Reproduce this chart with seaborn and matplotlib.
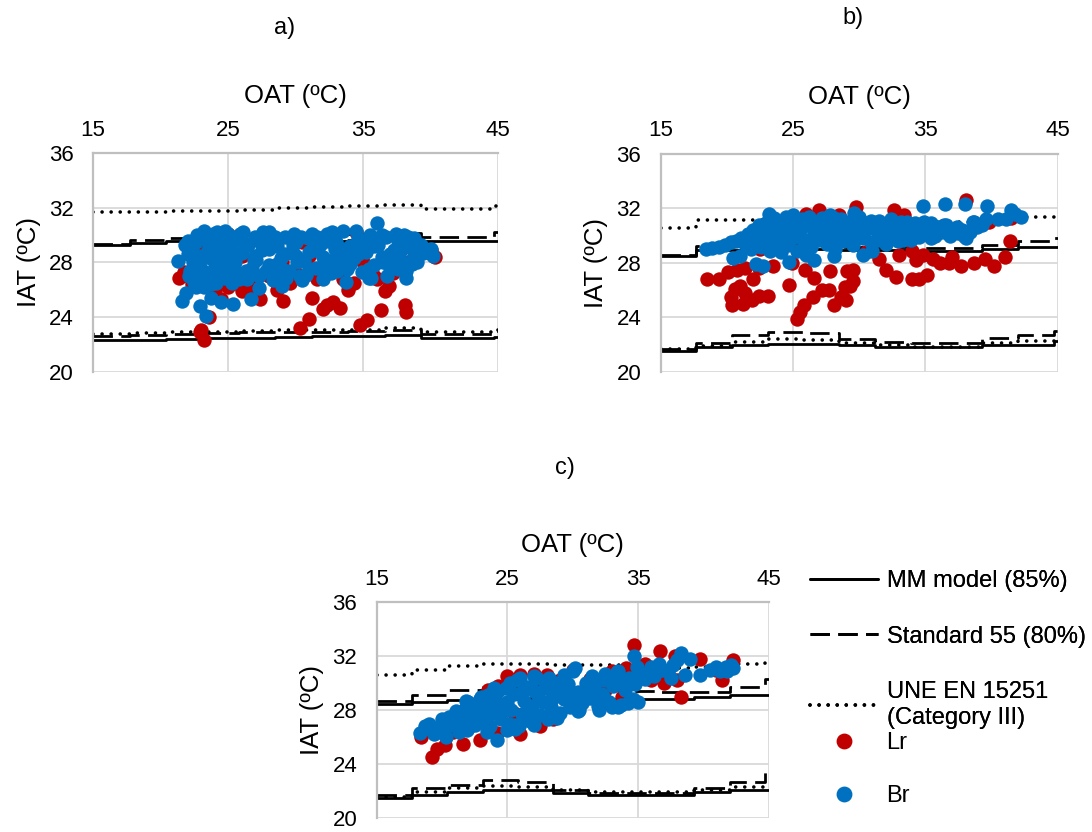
import matplotlib
matplotlib.use("Agg")
import matplotlib.pyplot as plt
import seaborn as sns
import pandas as pd
from matplotlib.lines import Line2D

# ---------------- data ----------------
xticks = [15, 25, 35, 45]
yticks = [20, 24, 28, 32, 36]

# comfort-band step breakpoints (OAT, ºC)
step_oat = [15, 17.7, 20.4, 23.1, 25.8, 28.5, 31.2, 33.9, 36.6, 39.3, 42.0, 44.7, 45]

# panel a) comfort limits
a_mm_up = [29.3, 29.45, 29.55, 29.55, 29.6, 29.6, 29.6, 29.65, 29.65, 29.55, 29.55, 29.6, 29.6]
a_s55_up = [29.35, 29.65, 29.8, 29.85, 29.95, 30.05, 30.05, 30.1, 30.15, 29.85, 29.85, 30.2, 30.2]
a_une_up = [31.7, 31.7, 31.75, 31.8, 31.85, 32.0, 32.05, 32.1, 32.2, 31.9, 31.9, 32.1, 32.1]
a_une_lo = [22.8, 22.85, 22.9, 22.95, 23.0, 23.05, 23.05, 23.1, 23.2, 22.95, 22.95, 23.1, 23.1]
a_s55_lo = [22.6, 22.7, 22.8, 22.85, 22.9, 22.95, 22.95, 23.0, 23.1, 22.8, 22.8, 23.0, 23.0]
a_mm_lo = [22.3, 22.35, 22.4, 22.45, 22.5, 22.55, 22.6, 22.65, 22.7, 22.5, 22.5, 22.55, 22.55]

# panel b) comfort limits
b_mm_up = [28.5, 28.95, 28.95, 29.0, 29.0, 28.95, 28.95, 28.9, 28.9, 29.05, 29.2, 29.2, 29.2]
b_s55_up = [28.6, 29.25, 29.3, 29.3, 29.3, 29.2, 29.15, 29.1, 29.1, 29.35, 29.6, 29.85, 29.85]
b_une_up = [30.55, 31.15, 31.15, 31.15, 31.15, 31.15, 31.1, 31.05, 31.0, 31.1, 31.4, 31.45, 31.45]
b_une_lo = [21.65, 21.9, 22.2, 22.4, 22.35, 22.15, 21.95, 21.85, 21.85, 22.1, 22.3, 22.55, 22.55]
b_s55_lo = [21.7, 22.1, 22.7, 22.9, 22.85, 22.4, 22.2, 22.1, 22.1, 22.5, 22.7, 23.0, 23.0]
b_mm_lo = [21.5, 21.8, 21.95, 22.05, 22.05, 21.95, 21.85, 21.8, 21.8, 21.95, 22.0, 22.25, 22.25]

# panel c) comfort limits
c_mm_up = [28.45, 28.6, 28.75, 28.85, 28.9, 28.85, 28.8, 28.8, 28.8, 28.95, 29.1, 29.15, 29.15]
c_s55_up = [28.7, 29.1, 29.5, 29.7, 29.75, 29.6, 29.5, 29.4, 29.35, 29.35, 29.7, 30.3, 30.3]
c_une_up = [30.6, 30.95, 31.25, 31.4, 31.4, 31.35, 31.3, 31.2, 31.15, 31.2, 31.4, 31.55, 31.55]
c_une_lo = [21.58, 21.95, 22.2, 22.37, 22.3, 22.07, 21.95, 21.9, 21.9, 22.07, 22.3, 22.45, 22.45]
c_s55_lo = [21.7, 22.2, 22.45, 22.8, 22.7, 22.07, 21.83, 21.83, 21.83, 22.2, 22.7, 23.4, 23.4]
c_mm_lo = [21.46, 21.7, 21.95, 22.07, 22.07, 21.83, 21.7, 21.7, 21.7, 21.95, 22.07, 22.07, 22.07]

# panel a) measurements
a_lr_oat = [21.4, 21.7, 22.0, 22.3, 22.6, 22.9, 23.2, 23.0, 23.6, 24.0,
            24.5, 25.0, 25.5, 26.0, 26.4, 27.0, 27.4, 28.0, 28.6, 29.1,
            29.6, 30.0, 30.3, 31.0, 31.2, 31.6, 32.0, 32.3, 32.8, 33.3,
            33.9, 34.3, 34.8, 35.3, 35.8, 36.3, 36.6, 36.9, 37.2, 38.2,
            38.1, 38.6, 39.0, 40.3, 40.0, 35.5, 25.0, 28.0, 30.5, 33.0,
            26.0, 24.0, 23.0, 22.5, 35.0, 37.5, 29.0, 31.0, 34.5, 27.0,
            33.5, 36.0]
a_lr_iat = [26.9, 27.3, 27.0, 26.4, 27.8, 22.9, 22.3, 23.1, 24.0, 26.0,
            25.3, 26.2, 26.5, 25.9, 26.6, 25.9, 25.3, 27.0, 26.0, 25.2,
            26.5, 27.2, 23.2, 23.9, 25.4, 26.8, 24.6, 24.9, 25.1, 24.7,
            26.0, 26.5, 23.4, 23.8, 27.0, 24.5, 25.9, 26.3, 27.2, 24.4,
            24.9, 28.2, 28.9, 28.4, 28.9, 29.9, 30.1, 29.8, 29.5, 28.0,
            28.5, 28.0, 29.0, 28.5, 28.0, 28.0, 28.0, 28.5, 30.2, 27.0,
            26.8, 26.8]
a_br_oat = [21.3, 21.6, 21.9, 22.0, 22.2, 22.3, 22.5, 22.6, 22.8, 22.9,
            23.0, 23.1, 23.2, 23.3, 23.4, 23.5, 23.6, 23.7, 23.8, 23.9,
            24.0, 24.1, 24.2, 24.3, 24.4, 24.5, 24.6, 24.8, 24.9, 25.0,
            25.1, 25.2, 25.4, 25.5, 25.6, 25.8, 26.0, 26.1, 26.3, 26.5,
            26.7, 26.9, 27.0, 27.3, 27.5, 27.8, 28.0, 28.3, 28.6, 28.9,
            29.2, 29.5, 29.8, 30.0, 30.3, 30.6, 30.9, 31.2, 31.5, 31.8,
            32.0, 32.3, 32.6, 32.9, 33.2, 33.5, 33.8, 34.0, 34.3, 34.6,
            34.9, 35.2, 35.5, 35.8, 36.0, 36.1, 36.4, 36.7, 37.0, 37.3,
            37.6, 37.9, 38.2, 38.2, 38.5, 38.8, 39.3, 39.7, 40.2, 40.0,
            22.4, 23.0, 23.8, 24.7, 25.3, 27.0, 28.0, 30.0, 31.0, 33.0,
            35.0, 36.5, 24.0, 26.0, 29.0,
            21.8, 22.2, 22.7, 23.3, 23.9, 24.4, 25.0, 25.6, 26.2, 26.8,
            27.4, 28.0, 28.6, 29.2, 29.8, 30.4, 31.0, 31.6, 32.2, 32.8,
            33.4, 34.0, 34.6, 35.2, 35.8, 36.4, 37.0, 37.6, 38.2, 38.8,
            22.1, 22.9, 23.5, 24.2, 24.9, 25.7, 26.4, 27.1, 27.8, 28.5,
            29.3, 30.1, 30.8, 31.5, 32.4, 33.1, 33.9, 34.7, 35.4, 36.2,
            37.1, 37.8, 38.6, 39.4, 23.7, 25.9, 28.8, 32.7, 35.6, 38.0,
            22.0, 23.2, 24.8, 27.6, 29.9, 31.2, 34.5, 37.4, 38.3, 30.5,
            32.0, 33.7, 35.4, 29.0, 27.3, 36.8, 26.6, 24.6, 22.6, 39.0]
a_br_iat = [28.1, 25.2, 25.8, 28.6, 27.4, 29.0, 26.6, 29.5, 27.9, 24.8,
            28.5, 29.8, 26.2, 27.3, 24.1, 28.9, 30.0, 25.4, 27.0, 28.2,
            29.4, 26.5, 30.2, 27.7, 28.8, 25.1, 29.6, 26.9, 28.4, 30.1,
            27.5, 29.1, 25.0, 28.0, 29.8, 26.8, 28.7, 30.2, 27.4, 29.3,
            25.3, 28.2, 29.9, 27.0, 28.9, 29.7, 27.8, 26.7, 29.2, 28.3,
            29.9, 27.4, 28.7, 29.5, 27.0, 28.1, 29.8, 28.9, 27.6, 29.3,
            28.4, 30.1, 27.2, 29.0, 28.0, 30.3, 27.5, 29.2, 28.3, 29.8,
            27.3, 28.8, 30.0, 27.8, 30.9, 29.3, 28.4, 29.9, 27.6, 28.9,
            29.6, 28.1, 26.9, 27.4, 29.1, 28.5, 29.3, 28.8, 28.5, 29.0,
            28.0, 27.0, 29.0, 28.0, 26.5, 28.5, 29.0, 28.5, 27.5, 29.5,
            29.0, 28.0, 27.5, 27.0, 27.5,
            29.3, 28.9, 30.0, 29.7, 30.1, 27.2, 28.9, 27.3, 29.4, 27.6,
            29.5, 30.2, 27.9, 28.6, 29.3, 29.9, 28.8, 29.9, 27.7, 28.2,
            29.0, 27.9, 28.6, 29.5, 29.2, 30.0, 28.6, 27.5, 29.6, 29.8,
            27.0, 27.7, 28.4, 26.9, 27.2, 28.6, 26.8, 28.2, 27.4, 29.9,
            26.9, 28.0, 27.1, 28.9, 29.6, 27.4, 28.6, 29.4, 27.5, 29.7,
            28.4, 28.9, 27.9, 28.7, 26.4, 30.1, 27.2, 30.2, 26.9, 30.0,
            29.6, 30.3, 30.3, 30.2, 30.1, 30.1, 30.3, 30.1, 29.9, 26.7,
            26.8, 26.6, 26.9, 26.3, 26.1, 27.0, 27.4, 27.0, 26.2, 28.0]

# panel b) measurements
b_lr_oat = [18.5, 19.4, 20.1, 20.8, 20.3, 20.4, 21.2, 21.9, 22.4, 23.1,
            21.4, 21.0, 20.6, 22.0, 21.4, 22.4, 23.5, 24.9, 25.5, 25.3,
            25.8, 24.7, 25.9, 26.6, 27.2, 26.5, 27.7, 28.1, 28.6, 28.9,
            29.5, 29.1, 27.8, 29.8, 27.0, 26.0, 32.6, 33.4, 38.1, 34.0,
            34.3, 34.8, 35.1, 36.1, 36.8, 37.7, 38.7, 40.2, 41.0, 41.4,
            32.0, 32.8, 34.0, 34.5, 29.5, 29.3, 29.0, 35.6, 37.0, 39.5,
            30.5, 31.5, 33.0, 23.5, 25.0, 27.5, 30.0, 31.0, 35.5, 39.8,
            22.5, 24.0, 28.5, 41.5]
b_lr_iat = [26.8, 26.8, 27.3, 27.5, 25.5, 24.9, 25.0, 25.3, 25.6, 25.6,
            25.8, 26.3, 26.1, 26.8, 27.6, 27.6, 27.8, 28.0, 24.4, 23.9,
            24.9, 26.4, 27.5, 26.9, 26.0, 25.5, 26.0, 24.9, 25.5, 26.2,
            26.7, 27.4, 27.4, 32.1, 31.9, 31.6, 31.9, 31.5, 32.6, 28.85,
            28.2, 28.6, 27.1, 28.0, 28.0, 27.8, 28.0, 27.8, 28.4, 29.6,
            27.5, 27.0, 26.8, 26.8, 27.5, 26.3, 25.3, 28.3, 28.4, 28.3,
            28.8, 28.3, 28.6, 29.5, 29.8, 30.2, 30.0, 31.0, 30.0, 31.0,
            29.0, 31.0, 31.5, 31.3]
b_br_oat = [18.4, 18.9, 19.4, 19.9, 20.3, 20.7, 21.1, 21.4, 21.6, 21.8,
            22.0, 22.2, 22.4, 22.6, 22.8, 23.0, 23.1, 23.3, 23.5, 23.6,
            23.8, 24.0, 24.1, 24.3, 24.5, 24.6, 24.8, 25.0, 25.1, 25.3,
            25.5, 25.7, 25.8, 26.0, 26.2, 26.4, 26.6, 26.8, 27.0, 27.2,
            27.4, 27.6, 27.8, 28.0, 28.2, 28.4, 28.6, 28.8, 29.0, 29.2,
            29.5, 29.8, 30.0, 30.3, 30.6, 30.9, 31.2, 31.5, 31.8, 32.1,
            32.4, 32.7, 33.0, 33.3, 33.6, 33.9, 34.2, 34.5, 34.8, 35.1,
            35.4, 35.7, 36.0, 36.3, 36.6, 36.9, 37.2, 37.5, 37.8, 38.1,
            38.4, 38.7, 39.6, 38.6, 40.5, 41.1, 41.5, 41.8, 42.2, 34.8,
            36.5, 38.0, 39.7, 20.5, 21.0, 22.2, 22.7, 24.7, 26.6, 28.1,
            30.3, 31.0, 23.2, 29.6, 26.0, 32.0,
            21.9, 22.3, 22.7, 23.2, 23.7, 24.2, 24.7, 25.2, 25.6, 26.1,
            26.5, 26.9, 27.3, 27.7, 28.1, 28.5, 28.9, 29.4, 29.9, 30.4,
            30.9, 31.4, 31.9, 32.4, 32.9, 33.4, 33.9, 34.4, 34.9, 35.4,
            35.9, 36.4, 36.9, 37.4, 37.9, 38.9, 39.3, 22.5, 23.9, 25.4,
            26.7, 28.3, 29.7, 31.7, 33.2, 35.0, 36.7]
b_br_iat = [29.0, 29.1, 29.2, 29.3, 29.5, 29.6, 29.8, 29.4, 30.1, 29.0,
            30.4, 29.6, 30.8, 29.2, 30.2, 31.0, 29.8, 28.9, 30.5, 31.3,
            29.5, 30.9, 28.8, 30.2, 31.4, 29.3, 30.7, 31.5, 29.9, 28.9,
            30.4, 31.2, 29.5, 30.8, 31.4, 29.2, 30.3, 31.0, 29.7, 31.3,
            30.5, 29.4, 31.5, 30.1, 29.0, 30.8, 31.2, 29.6, 30.4, 31.0,
            29.3, 30.6, 31.4, 29.8, 30.9, 29.5, 30.5, 31.1, 29.9, 30.7,
            31.2, 30.1, 30.8, 29.7, 31.0, 30.3, 30.9, 29.9, 30.6, 30.2,
            30.9, 30.0, 30.6, 30.3, 30.8, 30.0, 30.5, 30.2, 30.4, 29.8,
            30.3, 31.0, 31.2, 31.0, 31.2, 31.2, 31.9, 31.6, 31.4, 32.2,
            32.3, 32.3, 32.2, 28.35, 28.5, 27.9, 27.8, 28.1, 28.2, 28.5,
            28.6, 28.9, 31.6, 31.7, 28.6, 29.4,
            29.3, 30.0, 29.9, 30.6, 30.0, 29.9, 30.2, 30.2, 30.9, 29.7,
            31.0, 30.4, 29.9, 30.9, 31.3, 29.6, 30.9, 30.0, 29.9, 30.3,
            31.1, 29.7, 30.4, 30.0, 29.6, 30.5, 29.7, 30.5, 31.0, 29.8,
            30.6, 30.8, 30.4, 30.6, 30.0, 30.6, 30.8, 30.6, 30.4, 30.8,
            30.4, 30.1, 30.8, 30.7, 31.0, 30.4, 30.2]

# panel c) measurements
c_lr_oat = [18.4, 19.2, 19.6, 20.2, 21.6, 22.9, 24.2, 20.8, 22.0, 23.0,
            23.5, 24.3, 25.0, 26.0, 27.0, 28.0, 29.0, 30.0, 31.3, 32.5,
            33.0, 34.1, 34.7, 36.7, 37.8, 38.3, 38.0, 39.7, 41.4, 42.3,
            41.0, 36.0, 31.0, 27.5, 26.0, 28.5, 25.5, 35.5, 37.0, 33.8]
c_lr_iat = [26.0, 24.5, 25.1, 25.4, 25.5, 25.8, 26.3, 26.4, 26.7, 27.2,
            29.5, 29.8, 30.5, 30.6, 30.7, 30.6, 30.2, 31.0, 30.3, 29.5,
            30.9, 31.1, 32.8, 32.4, 32.0, 29.0, 30.2, 31.8, 30.2, 31.7,
            31.0, 30.2, 29.0, 26.8, 26.2, 27.3, 27.8, 31.4, 30.0, 29.0]
c_br_oat = [18.3, 18.7, 19.0, 19.4, 19.7, 20.0, 20.3, 20.6, 21.0, 21.3,
            21.5, 21.7, 21.9, 22.1, 22.3, 22.5, 22.7, 22.9, 23.1, 23.3,
            23.5, 23.7, 23.9, 24.1, 24.3, 24.2, 24.5, 24.7, 24.9, 25.1,
            25.3, 25.5, 25.7, 25.9, 26.1, 26.3, 26.5, 26.7, 26.9, 27.1,
            27.3, 27.5, 27.7, 27.9, 28.1, 28.3, 28.5, 28.7, 29.0, 29.3,
            29.6, 29.8, 30.0, 30.2, 30.4, 30.7, 31.0, 31.3, 31.6, 31.9,
            32.2, 32.5, 32.8, 33.1, 33.4, 33.7, 34.0, 34.3, 34.6, 34.8,
            34.9, 34.7, 35.0, 35.2, 35.5, 35.8, 36.2, 36.6, 36.9, 37.3,
            37.7, 38.0, 38.3, 38.6, 39.7, 41.0, 41.3, 41.7, 42.1, 42.3,
            19.2, 19.9, 20.5, 21.1, 21.8, 22.4, 23.0, 23.6, 24.4, 25.0,
            25.6, 26.2, 26.8, 27.4, 28.0, 28.6, 29.2, 29.9, 30.5, 31.2,
            31.8, 32.4, 33.0, 33.6, 34.2, 34.5, 33.0, 31.5, 30.0, 28.4,
            26.6, 25.0, 23.4, 22.0, 20.8, 36.0, 37.5, 39.0, 40.5, 41.8,
            25.2, 26.0, 27.0, 28.2, 29.3, 24.0, 23.0, 22.0, 31.5, 32.5,
            33.5, 25.6, 27.0, 28.8, 30.4, 32.0, 33.5]
c_br_iat = [26.3, 26.8, 27.0, 26.2, 26.7, 27.3, 26.0, 26.9, 27.6, 26.4,
            27.2, 28.0, 26.5, 27.6, 28.4, 26.9, 27.9, 28.8, 27.2, 28.2,
            29.1, 26.8, 27.8, 28.7, 29.4, 25.8, 27.3, 28.3, 29.6, 27.0,
            28.0, 29.2, 30.2, 26.8, 27.7, 28.7, 29.7, 27.2, 28.3, 29.3,
            30.4, 27.6, 28.6, 29.6, 27.3, 28.2, 29.1, 30.0, 27.8, 28.8,
            29.9, 28.2, 30.9, 31.1, 29.3, 28.5, 30.0, 28.9, 29.6, 28.3,
            29.2, 30.2, 28.6, 29.8, 30.8, 28.4, 29.5, 30.4, 28.8, 29.9,
            31.2, 32.0, 28.6, 30.6, 30.3, 30.8, 30.5, 31.4, 31.0, 30.9,
            31.3, 31.7, 32.2, 30.6, 30.6, 31.2, 30.9, 31.2, 31.3, 31.1,
            26.5, 26.4, 27.5, 27.9, 28.7, 28.0, 27.5, 28.4, 28.1, 28.6,
            26.9, 29.4, 29.7, 28.8, 30.1, 27.7, 29.4, 29.0, 28.0, 29.7,
            30.1, 28.9, 28.2, 30.1, 28.5, 30.0, 30.3, 30.4, 28.3, 28.8,
            27.8, 26.5, 26.4, 27.0, 27.3, 31.2, 30.4, 31.8, 31.0, 30.9,
            30.0, 30.4, 30.5, 30.4, 30.6, 29.6, 29.0, 28.6, 30.5, 30.7,
            30.9, 26.6, 26.9, 27.4, 27.9, 28.0, 28.2]

panel_letters = ["a)", "b)", "c)"]
legend_labels = ["MM model (85%)", "Standard 55 (80%)", "UNE EN 15251\n(Category III)", "Lr", "Br"]

# ---------------- style ----------------
sns.set_style("white")
plt.rcParams["font.family"] = ["Liberation Sans", "DejaVu Sans"]
plt.rcParams["text.color"] = "black"
plt.rcParams["axes.labelcolor"] = "black"

RED = "#C00000"
BLUE = "#0070C0"
GRID = "#d9d9d9"
AXIS = "#bfbfbf"
TICK_FS = 16
LABEL_FS = 18.5
LEG_FS = 17
MS = 108

DOT = (0, (0.01, 2.5))
DASH = (0, (7, 3))

fig = plt.figure(figsize=(10.92, 8.32), dpi=100)

panels = [
    dict(pos=[0.0852, 0.553, 0.371, 0.263], lines=(a_mm_up, a_s55_up, a_une_up, a_une_lo, a_s55_lo, a_mm_lo),
         lr=(a_lr_oat, a_lr_iat), br=(a_br_oat, a_br_iat), letter=(0.261, 0.966)),
    dict(pos=[0.605, 0.553, 0.3635, 0.262], lines=(b_mm_up, b_s55_up, b_une_up, b_une_lo, b_s55_lo, b_mm_lo),
         lr=(b_lr_oat, b_lr_iat), br=(b_br_oat, b_br_iat), letter=(0.781, 0.978)),
    dict(pos=[0.345, 0.0168, 0.359, 0.2596], lines=(c_mm_up, c_s55_up, c_une_up, c_une_lo, c_s55_lo, c_mm_lo),
         lr=(c_lr_oat, c_lr_iat), br=(c_br_oat, c_br_iat), letter=(0.517, 0.4375)),
]

for i, p in enumerate(panels):
    ax = fig.add_axes(p["pos"])
    mm_up, s55_up, une_up, une_lo, s55_lo, mm_lo = p["lines"]
    styles = [("-", mm_up), (DASH, s55_up), (DOT, une_up), (DOT, une_lo), (DASH, s55_lo), ("-", mm_lo)]
    for ls, vals in styles:
        df = pd.DataFrame({"oat": step_oat, "iat": vals})
        is_dot = ls == DOT
        sns.lineplot(data=df, x="oat", y="iat", ax=ax, color="black", linewidth=2.6 if is_dot else 2.0,
                     linestyle=ls, drawstyle="steps-post", estimator=None, sort=False, zorder=2,
                     dash_capstyle="round" if is_dot else "butt")
    dlr = pd.DataFrame({"oat": p["lr"][0], "iat": p["lr"][1]})
    dbr = pd.DataFrame({"oat": p["br"][0], "iat": p["br"][1]})
    sns.scatterplot(data=dlr, x="oat", y="iat", ax=ax, color=RED, s=MS, linewidth=0, zorder=3)
    sns.scatterplot(data=dbr, x="oat", y="iat", ax=ax, color=BLUE, s=MS, linewidth=0, zorder=4)

    ax.set_xlim(15, 45)
    ax.set_ylim(20, 36)
    ax.set_xticks(xticks)
    ax.set_yticks(yticks)
    ax.xaxis.tick_top()
    ax.xaxis.set_label_position("top")
    ax.set_xlabel("OAT (ºC)", fontsize=LABEL_FS, labelpad=12)
    ax.set_ylabel("IAT (ºC)", fontsize=LABEL_FS, labelpad=6)
    ax.tick_params(axis="x", length=0, labelsize=TICK_FS, pad=9, colors="black")
    ax.tick_params(axis="y", length=0, labelsize=TICK_FS, pad=14, colors="black")
    ax.grid(True, color=GRID, linewidth=1.3)
    ax.set_axisbelow(True)
    for side in ["right", "bottom"]:
        ax.spines[side].set_visible(False)
    for side in ["left", "top"]:
        ax.spines[side].set_color(AXIS)
        ax.spines[side].set_linewidth(1.6)
    fig.text(p["letter"][0], p["letter"][1], panel_letters[i], fontsize=LEG_FS, ha="center", va="center")

line_handles = [
    Line2D([], [], color="black", linewidth=2.0, linestyle="-"),
    Line2D([], [], color="black", linewidth=2.0, linestyle=DASH),
    Line2D([], [], color="black", linewidth=2.6, linestyle=DOT, dash_capstyle="round"),
]
leg1 = fig.legend(line_handles, legend_labels[:3], loc="upper left", bbox_to_anchor=(0.733, 0.326),
                  frameon=False, fontsize=LEG_FS, handlelength=2.9, handletextpad=0.35,
                  labelspacing=1.42, borderaxespad=0)
mark_handles = [
    Line2D([], [], color=RED, marker="o", markersize=10.4, linestyle="none"),
    Line2D([], [], color=BLUE, marker="o", markersize=10.4, linestyle="none"),
]
leg2 = fig.legend(mark_handles, legend_labels[3:], loc="upper left", bbox_to_anchor=(0.733, 0.131),
                  frameon=False, fontsize=LEG_FS, handlelength=2.9, handletextpad=0.35,
                  labelspacing=1.3, borderaxespad=0)
fig.add_artist(leg1)

fig.savefig("out.png", dpi=100)
